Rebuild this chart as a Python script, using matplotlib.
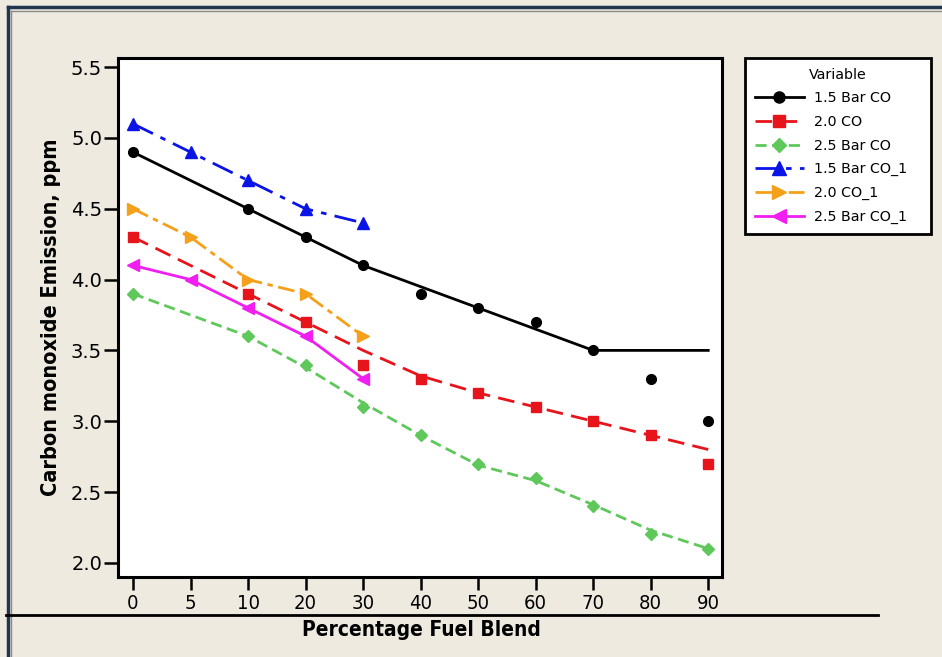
import matplotlib
matplotlib.use("Agg")
import matplotlib.pyplot as plt
from matplotlib.lines import Line2D

# x categories (equally spaced on the axis)
blend = ["0", "5", "10", "20", "30", "40", "50", "60", "70", "80", "90"]

# measured points (None = no point at that blend)
co_15 = [4.9, None, 4.5, 4.3, 4.1, 3.9, 3.8, 3.7, 3.5, 3.3, 3.0]
co_20 = [4.3, None, 3.9, 3.7, 3.4, 3.3, 3.2, 3.1, 3.0, 2.9, 2.7]
co_25 = [3.9, None, 3.6, 3.4, 3.1, 2.9, 2.7, 2.6, 2.4, 2.2, 2.1]
co_15_1 = [5.1, 4.9, 4.7, 4.5, 4.4]
co_20_1 = [4.5, 4.3, 4.0, 3.9, 3.6]
co_25_1 = [4.1, 4.0, 3.8, 3.6, 3.3]

# fitted lines drawn through the first three series
fit_15 = [4.9, 4.7, 4.5, 4.3, 4.1, 3.95, 3.8, 3.65, 3.5, 3.5, 3.5]
fit_20 = [4.3, 4.1, 3.9, 3.7, 3.5, 3.32, 3.2, 3.1, 3.0, 2.9, 2.8]
fit_25 = [3.9, 3.75, 3.6, 3.38, 3.13, 2.9, 2.69, 2.58, 2.41, 2.23, 2.1]

labels = ["1.5 Bar CO", "2.0 CO", "2.5 Bar CO", "1.5 Bar CO_1", "2.0 CO_1", "2.5 Bar CO_1"]
colors = ["black", "#e8141b", "#5fc85a", "#0a14e6", "#f5a01a", "#f01ef0"]
markers = ["o", "s", "D", "^", ">", "<"]
msizes = [7, 7, 6.5, 9, 9, 9]
styles = ["-", (0, (6, 3)), (0, (4, 2)), (0, (8, 3, 2, 3)), (0, (6, 2, 2, 2)), "-"]

bg = "#eeeae0"
fig = plt.figure(figsize=(9.42, 6.57), dpi=100, facecolor=bg)
ax = fig.add_axes([0.1253, 0.1218, 0.6412, 0.79])

x = list(range(len(blend)))
x5 = x[:5]

fits = [fit_15, fit_20, fit_25]
pts = [co_15, co_20, co_25]
for i in range(3):
    ax.plot(x, fits[i], color=colors[i], linestyle=styles[i], lw=2)
    px = [xi for xi, v in zip(x, pts[i]) if v is not None]
    py = [v for v in pts[i] if v is not None]
    ax.plot(px, py, linestyle="none", marker=markers[i], ms=msizes[i],
            color=colors[i])

short = [co_15_1, co_20_1, co_25_1]
for j in range(3):
    i = j + 3
    ax.plot(x5, short[j], color=colors[i], linestyle=styles[i], lw=2,
            marker=markers[i], ms=msizes[i])

ax.set_xlim(-0.26, 10.24)
ax.set_ylim(1.9, 5.565)
ax.set_xticks(x)
ax.set_xticklabels(blend, fontsize=14.5, fontstretch="condensed")
ax.set_yticks([2.0, 2.5, 3.0, 3.5, 4.0, 4.5, 5.0, 5.5])
ax.set_yticklabels(["2.0", "2.5", "3.0", "3.5", "4.0", "4.5", "5.0", "5.5"],
                   fontsize=14)
for s in ax.spines.values():
    s.set_linewidth(2.2)
ax.tick_params(axis="x", length=9, width=1.8, pad=3)
ax.tick_params(axis="y", length=10, width=1.8, pad=1.5)

ax.set_ylabel("Carbon monoxide Emission, ppm", fontsize=15.6, fontweight="bold",
              fontstretch="condensed", labelpad=7)
fig.text(0.447, 0.041, "Percentage Fuel Blend", fontsize=15, fontweight="bold",
         fontstretch="condensed", ha="center", va="center")

# legend with line + marker handles
handles = [Line2D([], [], color=colors[i], linestyle=styles[i], lw=2,
                  marker=markers[i], ms=msizes[i] + 1) for i in range(6)]
leg = fig.legend(handles, labels, title="Variable", loc="upper left",
                 bbox_to_anchor=(0.791, 0.612, 0.197, 0.3), mode="expand",
                 borderaxespad=0, prop={"size": 10.3}, title_fontsize=10.3,
                 frameon=True, fancybox=False, handlelength=3.4,
                 borderpad=0.7, labelspacing=0.67, handletextpad=0.7)
leg.get_frame().set_edgecolor("black")
leg.get_frame().set_linewidth(2)
leg.get_frame().set_facecolor("white")
leg.get_frame().set_alpha(1)

# window frame and separator line
fig.add_artist(Line2D([0.008, 0.008], [0, 0.99], color="#1f3550", lw=2.5))
fig.add_artist(Line2D([0.012, 0.012], [0, 0.984], color="#8a8a8a", lw=1))
fig.add_artist(Line2D([0.008, 1.0], [0.99, 0.99], color="#1f3550", lw=2.5))
fig.add_artist(Line2D([0.012, 1.0], [0.984, 0.984], color="#8a8a8a", lw=1))
fig.add_artist(Line2D([0.006, 0.932], [0.064, 0.064], color="black", lw=2))

fig.savefig("out.png", dpi=100, facecolor=bg)
